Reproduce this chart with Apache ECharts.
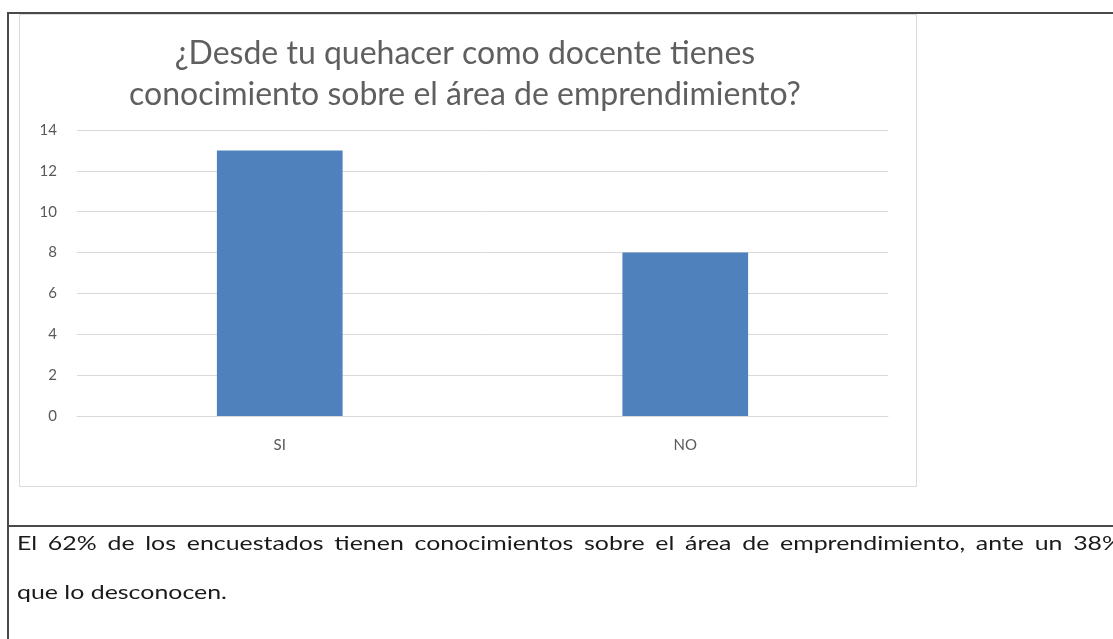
<!DOCTYPE html>
<html>
<head>
<meta charset="utf-8">
<script src="https://cdn.jsdelivr.net/npm/echarts@6/dist/echarts.min.js"></script>
<style>html,body{margin:0;padding:0;background:#fff;}#c{width:1113px;height:639px;}</style>
</head>
<body>
<div id="c"></div>
<script>
const categories = ['SI', 'NO'];
const values = [13, 8];
const yTicks = [0, 2, 4, 6, 8, 10, 12, 14];
const titleText = '¿Desde tu quehacer como docente tienes\nconocimiento sobre el área de emprendimiento?';
const noteLine1 = 'El 62% de los encuestados tienen conocimientos sobre el área de emprendimiento, ante un 38%';
const noteLine2 = 'que lo desconocen.';

// text layout helpers (justified note text, slightly stretched like the source)
const NOTE_FONT = '20px Lato';
const mctx = document.createElement('canvas').getContext('2d');
mctx.font = NOTE_FONT;
const noteScale = 210 / mctx.measureText(noteLine2).width;
const noteLeft = 17, noteRight = 1122;
const words = noteLine1.split(' ');
const wWidths = words.map(w => mctx.measureText(w).width * noteScale);
const totalW = wWidths.reduce((a, b) => a + b, 0);
const gap = (noteRight - noteLeft - totalW) / (words.length - 1);
const noteGraphics = [];
let cx = noteLeft;
words.forEach((w, i) => {
  noteGraphics.push({type: 'text', x: cx, y: 544, scaleX: noteScale,
    style: {text: w, font: NOTE_FONT, fill: '#1a1a1a', textVerticalAlign: 'middle'}});
  cx += wWidths[i] + gap;
});
noteGraphics.push({type: 'text', x: noteLeft, y: 593, scaleX: noteScale,
  style: {text: noteLine2, font: NOTE_FONT, fill: '#1a1a1a', textVerticalAlign: 'middle'}});

const chart = echarts.init(document.getElementById('c'), null, {renderer: 'canvas'});
chart.setOption({
  animation: false,
  backgroundColor: '#ffffff',
  title: {
    text: titleText,
    left: 465, top: 33, textAlign: 'center', padding: 0,
    textStyle: {fontFamily: 'Lato', fontSize: 32, fontWeight: 'normal', color: '#5f5f5f', lineHeight: 41}
  },
  grid: {left: 77, right: 225, top: 130, bottom: 223, containLabel: false},
  xAxis: {
    type: 'category', data: categories,
    axisLine: {show: true, lineStyle: {color: '#d9d9d9'}},
    axisTick: {show: false},
    axisLabel: {color: '#595959', fontFamily: 'Lato', fontSize: 15, margin: 22}
  },
  yAxis: {
    type: 'value', min: yTicks[0], max: yTicks[yTicks.length - 1], interval: 2,
    axisLine: {show: false}, axisTick: {show: false},
    axisLabel: {color: '#595959', fontFamily: 'Lato', fontSize: 15, margin: 20},
    splitLine: {lineStyle: {color: '#d9d9d9', width: 1}}
  },
  series: [{
    type: 'bar', data: values, barWidth: '31%',
    itemStyle: {color: '#4f81bd'}
  }],
  graphic: [
    {type: 'rect', shape: {x: 19.5, y: 14.5, width: 897, height: 472}, style: {fill: null, stroke: '#d9d9d9', lineWidth: 1}, z: -1},
    {type: 'line', shape: {x1: 8, y1: 13, x2: 1113, y2: 13}, style: {stroke: '#4a4a4a', lineWidth: 2}},
    {type: 'line', shape: {x1: 8, y1: 12, x2: 8, y2: 639}, style: {stroke: '#4a4a4a', lineWidth: 2}},
    {type: 'line', shape: {x1: 8, y1: 526, x2: 1113, y2: 526}, style: {stroke: '#4a4a4a', lineWidth: 2}}
  ].concat(noteGraphics)
});
</script>
</body>
</html>
